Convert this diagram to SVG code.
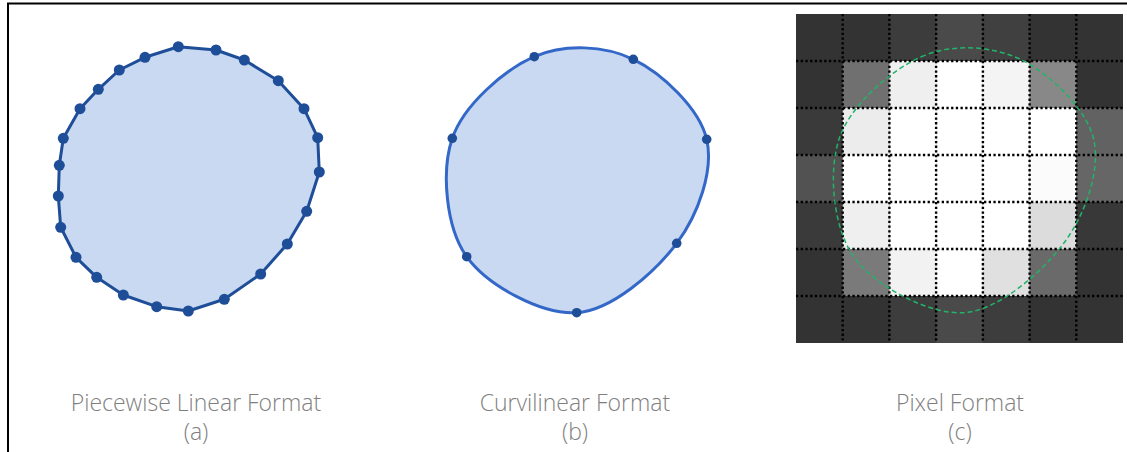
<svg xmlns="http://www.w3.org/2000/svg" width="1127" height="452" viewBox="0 0 1127 452">
<style>
.lbl{font-family:"Open Sans","Liberation Sans",sans-serif;font-weight:300;font-size:23px;fill:#7f7f7f;text-anchor:middle}
.poly{fill:#c8d9f1;stroke:#1f4e99;stroke-width:3;stroke-linejoin:round}
.curve{fill:#c8d9f1;stroke:#3468c8;stroke-width:3}
.v{fill:#1f4e99}
.grid{stroke:#000;stroke-width:2.4;stroke-dasharray:2.3 2.4;fill:none}
.green{fill:none;stroke:#22b36a;stroke-width:1.5;stroke-dasharray:5 3}
</style>
<rect width="1127" height="452" fill="#fff"/>
<path d="M8,452 V3.5 H1127" fill="none" stroke="#000" stroke-width="2"/>

<g id="piecewise">
<polygon class="poly" points="178.3,46.7 216,50 244.3,60 278.3,80.7 304,108.7 317.7,137.7 319.3,172 306.7,211.3 287.3,244 260.7,274 224.3,299.3 188.3,311 156.7,306.7 123.3,295 96.7,277.3 76,257.3 60.7,227.3 58.3,196 59.3,165.3 63.3,138.3 80,108.7 98.3,89.3 119.3,70 145,57.3"/>
<g class="v">
<circle cx="178.3" cy="46.7" r="5.5"/><circle cx="216" cy="50" r="5.5"/><circle cx="244.3" cy="60" r="5.5"/><circle cx="278.3" cy="80.7" r="5.5"/><circle cx="304" cy="108.7" r="5.5"/><circle cx="317.7" cy="137.7" r="5.5"/><circle cx="319.3" cy="172" r="5.5"/><circle cx="306.7" cy="211.3" r="5.5"/><circle cx="287.3" cy="244" r="5.5"/><circle cx="260.7" cy="274" r="5.5"/><circle cx="224.3" cy="299.3" r="5.5"/><circle cx="188.3" cy="311" r="5.5"/><circle cx="156.7" cy="306.7" r="5.5"/><circle cx="123.3" cy="295" r="5.5"/><circle cx="96.7" cy="277.3" r="5.5"/><circle cx="76" cy="257.3" r="5.5"/><circle cx="60.7" cy="227.3" r="5.5"/><circle cx="58.3" cy="196" r="5.5"/><circle cx="59.3" cy="165.3" r="5.5"/><circle cx="63.3" cy="138.3" r="5.5"/><circle cx="80" cy="108.7" r="5.5"/><circle cx="98.3" cy="89.3" r="5.5"/><circle cx="119.3" cy="70" r="5.5"/><circle cx="145" cy="57.3" r="5.5"/>
</g>
<text class="lbl" x="196" y="411">Piecewise Linear Format</text>
<text class="lbl" x="196" y="440">(a)</text>
</g>

<defs>
<path id="blob" d="M534.3,56.7 C564.5,43.5 604.6,45.5 633.3,59.3 C662,73.1 699.5,108.6 706.7,139.3 C713.9,170 698.4,214.4 676.7,243.3 C655,272.2 611.7,310.5 576.7,312.7 C541.7,314.9 487.4,285.8 466.7,256.7 C446,227.6 441,171.6 452.3,138.3 C463.6,105 504.1,69.9 534.3,56.7 Z"/>
</defs>

<g id="curvilinear">
<use href="#blob" class="curve"/>
<g class="v">
<circle cx="534.3" cy="56.7" r="4.8"/><circle cx="633.3" cy="59.3" r="4.8"/><circle cx="706.7" cy="139.3" r="4.8"/><circle cx="676.7" cy="243.3" r="4.8"/><circle cx="576.7" cy="312.7" r="4.8"/><circle cx="466.7" cy="256.7" r="4.8"/><circle cx="452.3" cy="138.3" r="4.8"/>
</g>
<text class="lbl" x="575" y="411">Curvilinear Format</text>
<text class="lbl" x="575" y="440">(b)</text>
</g>

<g id="pixel">
<g transform="translate(796,14)">
<rect width="327" height="329" fill="#333"/>
<g>
<rect x="93.4" y="0" width="46.8" height="47" fill="#3c3c3c"/>
<rect x="140.1" y="0" width="46.8" height="47" fill="#4a4a4a"/>
<rect x="186.9" y="0" width="46.8" height="47" fill="#404040"/>

<rect x="46.7" y="47" width="46.8" height="47" fill="#707070"/>
<rect x="93.4" y="47" width="46.8" height="47" fill="#efefef"/>
<rect x="140.1" y="47" width="46.8" height="47" fill="#ffffff"/>
<rect x="186.9" y="47" width="46.8" height="47" fill="#f4f4f4"/>
<rect x="233.6" y="47" width="46.8" height="47" fill="#888888"/>

<rect x="0" y="94" width="46.8" height="47" fill="#3a3a3a"/>
<rect x="46.7" y="94" width="46.8" height="47" fill="#ececec"/>
<rect x="93.4" y="94" width="46.8" height="47" fill="#ffffff"/>
<rect x="140.1" y="94" width="46.8" height="47" fill="#ffffff"/>
<rect x="186.9" y="94" width="46.8" height="47" fill="#ffffff"/>
<rect x="233.6" y="94" width="46.8" height="47" fill="#ffffff"/>
<rect x="280.3" y="94" width="46.7" height="47" fill="#626262"/>

<rect x="0" y="141" width="46.8" height="47" fill="#525252"/>
<rect x="46.7" y="141" width="46.8" height="47" fill="#ffffff"/>
<rect x="93.4" y="141" width="46.8" height="47" fill="#ffffff"/>
<rect x="140.1" y="141" width="46.8" height="47" fill="#ffffff"/>
<rect x="186.9" y="141" width="46.8" height="47" fill="#ffffff"/>
<rect x="233.6" y="141" width="46.8" height="47" fill="#fbfbfb"/>
<rect x="280.3" y="141" width="46.7" height="47" fill="#666666"/>

<rect x="0" y="188" width="46.8" height="47" fill="#3a3a3a"/>
<rect x="46.7" y="188" width="46.8" height="47" fill="#efefef"/>
<rect x="93.4" y="188" width="46.8" height="47" fill="#ffffff"/>
<rect x="140.1" y="188" width="46.8" height="47" fill="#ffffff"/>
<rect x="186.9" y="188" width="46.8" height="47" fill="#ffffff"/>
<rect x="233.6" y="188" width="46.8" height="47" fill="#dcdcdc"/>
<rect x="280.3" y="188" width="46.7" height="47" fill="#383838"/>

<rect x="46.7" y="235" width="46.8" height="47" fill="#7a7a7a"/>
<rect x="93.4" y="235" width="46.8" height="47" fill="#f2f2f2"/>
<rect x="140.1" y="235" width="46.8" height="47" fill="#ffffff"/>
<rect x="186.9" y="235" width="46.8" height="47" fill="#e0e0e0"/>
<rect x="233.6" y="235" width="46.8" height="47" fill="#6a6a6a"/>

<rect x="93.4" y="282" width="46.8" height="47" fill="#3d3d3d"/>
<rect x="140.1" y="282" width="46.8" height="47" fill="#4a4a4a"/>
<rect x="186.9" y="282" width="46.8" height="47" fill="#3d3d3d"/>
</g>
<path class="grid" d="M46.7,0V329 M93.4,0V329 M140.1,0V329 M186.9,0V329 M233.6,0V329 M280.3,0V329 M0,47H327 M0,94H327 M0,141H327 M0,188H327 M0,235H327 M0,282H327"/>
</g>
<use href="#blob" class="green" transform="translate(387,0)"/>
<text class="lbl" x="960" y="411">Pixel Format</text>
<text class="lbl" x="960" y="440">(c)</text>
</g>
</svg>
